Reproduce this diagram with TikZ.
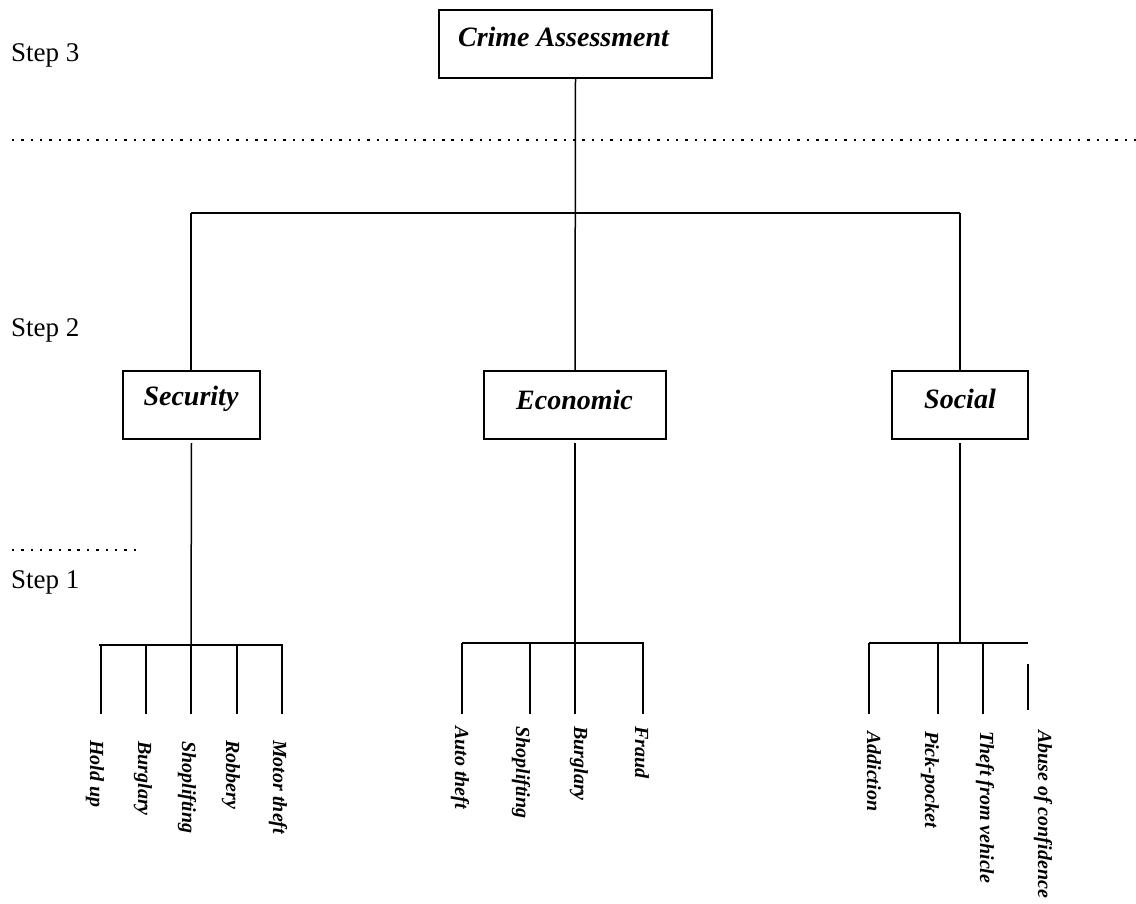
\documentclass[tikz,border=0pt]{standalone}
\usepackage{fontspec}
\setmainfont{Liberation Serif}
\begin{document}
\begin{tikzpicture}[x=1pt,y=-1pt,
  box/.style={draw,line width=2pt,minimum width=#1,minimum height=68pt,inner sep=0pt},
  boxtext/.style={font=\fontsize{28}{32}\selectfont\bfseries\itshape,inner sep=0pt},
  steptext/.style={font=\fontsize{27}{31}\selectfont,inner sep=0pt,anchor=west},
  leaf/.style={font=\fontsize{20}{24}\selectfont\bfseries\itshape,inner sep=0pt,rotate=-90,anchor=west},
  conn/.style={line width=1.5pt},
  leafline/.style={line width=2pt},
  dots/.style={line width=2.4pt,dash pattern=on 2.4pt off 6.95pt}]
\useasboundingbox (0,0) rectangle (1136,903);
% step labels
\node[steptext] (s3) at (11,55) {Step 3};
\node[steptext] (s2) at (11,330) {Step 2};
\node[steptext] (s1) at (11,582) {Step 1};
% dotted separators
\coordinate (d1a) at (12,140); \coordinate (d1b) at (1136,140);
\draw[dots] (d1a) -- (d1b);
\coordinate (d2a) at (12,550); \coordinate (d2b) at (142,550);
\draw[dots] (d2a) -- (d2b);
% boxes
\node[box=273pt] (crime) at (575.5,44) {};
\node[boxtext] (crimet) at (563.5,37) {Crime Assessment};
\node[box=137pt] (sec) at (191.5,405) {};
\node[boxtext] (sect) at (191,399) {Security};
\node[box=182pt] (eco) at (575,405) {};
\node[boxtext] (ecot) at (574.5,400) {Economic};
\node[box=136pt] (soc) at (960,405) {};
\node[boxtext] (soct) at (960,399) {Social};
% top tree
\coordinate (barL) at (191,213);
\coordinate (barR) at (960,213);
\draw[conn] (crime.south) -- (eco.north);
\draw[conn] (barL) -- (barR);
\draw[conn] (barL) -- (sec.north -| barL);
\draw[conn] (barR) -- (soc.north -| barR);
% security branch
\coordinate (sj) at (191,645);
\coordinate (sbL) at (99,645); \coordinate (sbR) at (283,645);
\draw[conn] ([yshift=-3pt]sec.south) -- (sj);
\draw[leafline] (sbL) -- (sbR);
\foreach \n/\x in {a/101,b/146,c/191,d/237,e/282}{
  \coordinate (s\n t) at (\x,645); \coordinate (s\n b) at (\x,714);
  \draw[leafline] (s\n t) -- (s\n b);
}
\node[leaf] (l1) at (95,740) {Hold up};
\node[leaf] (l2) at (143,741) {Burglary};
\node[leaf] (l3) at (187,741) {Shoplifting};
\node[leaf] (l4) at (231,740) {Robbery};
\node[leaf] (l5) at (278,740) {Motor theft};
% economic branch
\coordinate (ej) at (575,643);
\coordinate (ebL) at (462,643); \coordinate (ebR) at (644,643);
\draw[conn] ([yshift=-3pt]eco.south) -- (ej);
\draw[leafline] (ebL) -- (ebR);
\foreach \n/\x in {a/462,b/530,c/575,d/643}{
  \coordinate (e\n t) at (\x,643); \coordinate (e\n b) at (\x,714);
  \draw[leafline] (e\n t) -- (e\n b);
}
\node[leaf] (m1) at (460,726) {Auto theft};
\node[leaf] (m2) at (521,726) {Shoplifting};
\node[leaf] (m3) at (579,726) {Burglary};
\node[leaf] (m4) at (642,726) {Fraud};
% social branch
\coordinate (cj) at (960,643);
\coordinate (cbL) at (869,643); \coordinate (cbR) at (1028,643);
\draw[conn] ([yshift=-3pt]soc.south) -- (cj);
\draw[leafline] (cbL) -- (cbR);
\foreach \n/\x in {a/869,b/938,c/983}{
  \coordinate (c\n t) at (\x,643); \coordinate (c\n b) at (\x,714);
  \draw[leafline] (c\n t) -- (c\n b);
}
\coordinate (cdt) at (1028,664); \coordinate (cdb) at (1028,710);
\draw[leafline] (cdt) -- (cdb);
\node[leaf] (n1) at (874,731) {Addiction};
\node[leaf] (n2) at (930,731) {Pick-pocket};
\node[leaf] (n3) at (985,731) {Theft from vehicle};
\node[leaf] (n4) at (1043,730) {Abuse of confidence};
\end{tikzpicture}
\end{document}
